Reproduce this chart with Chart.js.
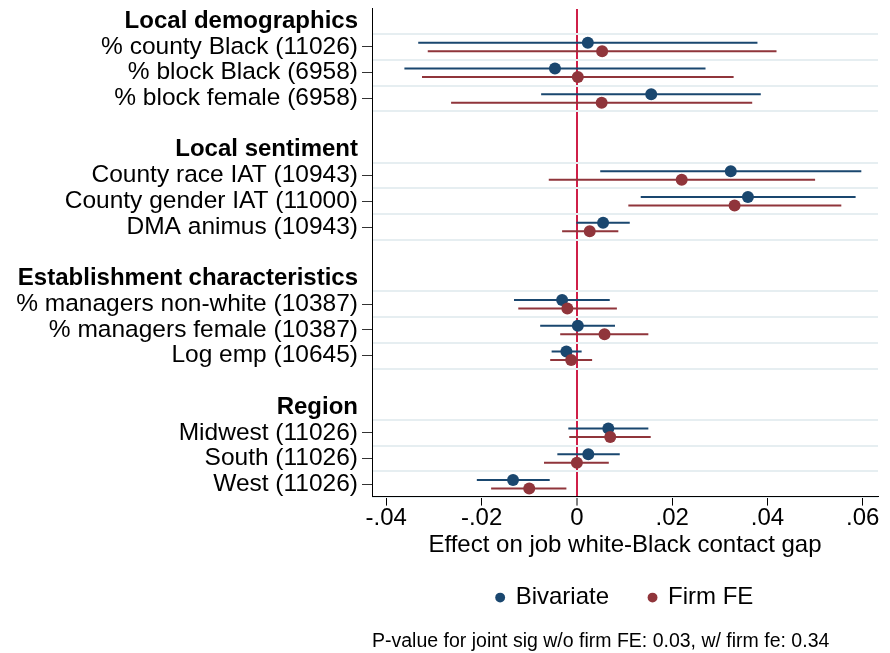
<!DOCTYPE html>
<html>
<head>
<meta charset="utf-8">
<script src="https://cdn.jsdelivr.net/npm/chart.js@4.4.1/dist/chart.umd.min.js"></script>
<style>
  html, body { margin: 0; padding: 0; background: #fff; }
</style>
</head>
<body>
<canvas id="grafico" width="890" height="653"></canvas>
<script>
// groups and variables, top to bottom
const groups = ["Local demographics", "Local sentiment", "Establishment characteristics", "Region"];
const variables = [
  "% county Black (11026)", "% block Black (6958)", "% block female (6958)",
  "County race IAT (10943)", "County gender IAT (11000)", "DMA animus (10943)",
  "% managers non-white (10387)", "% managers female (10387)", "Log emp (10645)",
  "Midwest (11026)", "South (11026)", "West (11026)"
];
const variableGroup = [0, 0, 0, 1, 1, 1, 2, 2, 2, 3, 3, 3];

// Bivariate estimates and 95% CI
const bivEst = [0.0023, -0.0046, 0.0156, 0.0323, 0.0359, 0.0055, -0.0031, 0.0002, -0.0022, 0.0066, 0.0024, -0.0134];
const bivLo  = [-0.0333, -0.0362, -0.0075, 0.0049, 0.0134, -0.0001, -0.0132, -0.0077, -0.0053, -0.0018, -0.0041, -0.0210];
const bivHi  = [0.0379, 0.0270, 0.0386, 0.0597, 0.0585, 0.0111, 0.0069, 0.0080, 0.0010, 0.0150, 0.0090, -0.0057];

// Firm FE estimates and 95% CI
const feEst = [0.0053, 0.0002, 0.0052, 0.0220, 0.0331, 0.0027, -0.0020, 0.0058, -0.0012, 0.0070, 0.0000, -0.0100];
const feLo  = [-0.0313, -0.0325, -0.0264, -0.0059, 0.0108, -0.0031, -0.0123, -0.0035, -0.0056, -0.0016, -0.0069, -0.0180];
const feHi  = [0.0419, 0.0329, 0.0368, 0.0500, 0.0555, 0.0087, 0.0084, 0.0150, 0.0032, 0.0155, 0.0067, -0.0022];

const xTicks = [-0.04, -0.02, 0, 0.02, 0.04, 0.06];
const xTickLabels = ["-.04", "-.02", "0", ".02", ".04", ".06"];
const xTitle = "Effect on job white-Black contact gap";
const seriesNames = ["Bivariate", "Firm FE"];
const note = "P-value for joint sig w/o firm FE: 0.03, w/ firm fe: 0.34";

const corAzul = "#1a476f";
const corVinho = "#90353b";
const corZero = "#cf1f48";
const corGrade = "#e6eef1";
const offset = 0.165; // afastamento vertical entre as duas series

Chart.defaults.font.family = "'Liberation Sans', Arial, sans-serif";
Chart.defaults.color = "#000";

// monta as linhas: cabecalho, variaveis, linha em branco
const rowLabels = [];
const headerRows = [];
const varRow = [];
groups.forEach((g, gi) => {
  if (gi > 0) rowLabels.push("");
  headerRows.push(rowLabels.length);
  rowLabels.push(g);
  variables.forEach((v, vi) => {
    if (variableGroup[vi] === gi) {
      varRow[vi] = rowLabels.length;
      rowLabels.push(v);
    }
  });
});
const gridRows = [];
varRow.forEach((r) => {
  [r - 0.5, r + 0.5].forEach((g) => { if (!gridRows.includes(g)) gridRows.push(g); });
});
const yMin = -0.48;
const yMax = rowLabels.length - 1 + 0.48;

function pontos(est, off) {
  return est.map((v, i) => ({ x: v, y: varRow[i] + off }));
}
function intervalos(lo, hi, off) {
  const pts = [];
  lo.forEach((l, i) => {
    const y = varRow[i] + off;
    pts.push({ x: l, y: y }, { x: hi[i], y: y }, { x: hi[i], y: NaN });
  });
  return pts;
}

const ctx = document.getElementById("grafico").getContext("2d");
new Chart(ctx, {
  type: "scatter",
  data: {
    datasets: [
      { label: seriesNames[0], data: pontos(bivEst, -offset), order: 1,
        pointRadius: 6, pointBackgroundColor: corAzul, pointBorderWidth: 0, backgroundColor: corAzul, borderWidth: 0 },
      { label: seriesNames[1], data: pontos(feEst, offset), order: 0,
        pointRadius: 6, pointBackgroundColor: corVinho, pointBorderWidth: 0, backgroundColor: corVinho, borderWidth: 0 },
      { label: "ci1", data: intervalos(bivLo, bivHi, -offset), order: 2, showLine: true, spanGaps: false,
        pointRadius: 0, borderColor: corAzul, borderWidth: 2 },
      { label: "ci2", data: intervalos(feLo, feHi, offset), order: 2, showLine: true, spanGaps: false,
        pointRadius: 0, borderColor: corVinho, borderWidth: 2 }
    ]
  },
  options: {
    responsive: false,
    animation: false,
    events: [],
    layout: { padding: { left: 0, right: 12, top: 7, bottom: 0 } },
    scales: {
      x: {
        type: "linear",
        min: -0.043,
        max: 0.0632,
        afterBuildTicks: (s) => { s.ticks = xTicks.map((v) => ({ value: v })); },
        afterFit: (s) => { s.height = 49; },
        border: { color: "#000", width: 1 },
        grid: {
          color: (c) => (c.tick && c.tick.value === 0 ? corZero : "rgba(0,0,0,0)"),
          lineWidth: (c) => (c.tick && c.tick.value === 0 ? 2 : 1),
          tickColor: "#000",
          tickWidth: 1,
          tickLength: 9
        },
        ticks: {
          autoSkip: false,
          maxRotation: 0,
          padding: 0,
          font: { size: 24, lineHeight: 1.1 },
          callback: (v, i) => xTickLabels[i]
        },
        title: { display: true, text: xTitle, font: { size: 24 }, padding: { top: 0, bottom: -14.4 } }
      },
      y: {
        type: "linear",
        reverse: true,
        min: yMin,
        max: yMax,
        afterBuildTicks: (s) => { s.ticks = rowLabels.map((_, i) => ({ value: i })); },
        afterFit: (s) => { s.width = 372; },
        border: { color: "#000", width: 1 },
        grid: {
          drawOnChartArea: false,
          tickLength: 10,
          tickWidth: 1,
          tickColor: (c) => (varRow.includes(c.index) ? "#333" : "rgba(0,0,0,0)")
        },
        ticks: {
          autoSkip: false,
          padding: 4,
          callback: (v, i) => rowLabels[i],
          font: (c) => (headerRows.includes(c.index)
            ? { size: 24, lineHeight: 0.4, weight: "bold" }
            : { size: 24.5, lineHeight: 0.4, weight: "normal" })
        }
      },
      yg: {
        type: "linear",
        position: "right",
        reverse: true,
        min: yMin,
        max: yMax,
        afterBuildTicks: (s) => { s.ticks = gridRows.map((v) => ({ value: v })); },
        afterFit: (s) => { s.width = 0; },
        border: { display: false },
        ticks: { display: false },
        grid: { color: corGrade, lineWidth: 2, drawTicks: false }
      }
    },
    plugins: {
      tooltip: { enabled: false },
      legend: {
        position: "bottom",
        fullSize: false,
        maxHeight: 70,
        labels: {
          usePointStyle: true,
          pointStyle: "circle",
          boxWidth: 7,
          boxHeight: 7,
          padding: 40,
          font: { size: 24 },
          color: "#000",
          filter: (item) => item.datasetIndex < 2,
          sort: (a, b) => a.datasetIndex - b.datasetIndex
        }
      },
      subtitle: {
        display: true,
        position: "bottom",
        fullSize: false,
        align: "start",
        text: note,
        color: "#000",
        font: { size: 19.5, weight: "normal" },
        padding: { top: 14, bottom: 0 }
      }
    }
  }
});
</script>
</body>
</html>
